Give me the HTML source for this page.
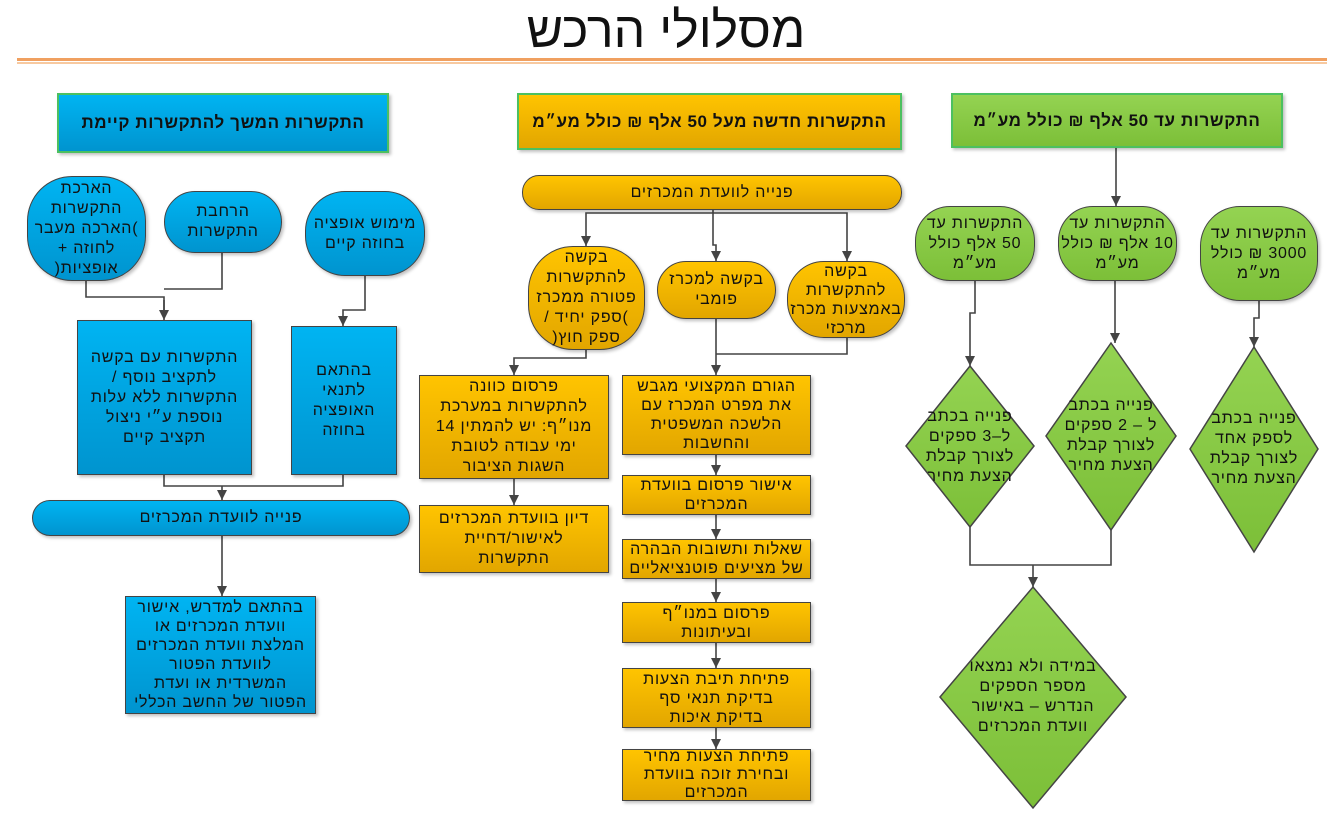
<!DOCTYPE html>
<html><head><meta charset="utf-8"><style>
body{margin:0;width:1332px;height:823px;background:#fff;position:relative;overflow:hidden;font-family:"Liberation Sans","DejaVu Sans",sans-serif;}
.b{position:absolute;box-sizing:border-box;display:flex;align-items:center;justify-content:center;text-align:center;direction:rtl;font-size:16px;letter-spacing:0.8px;line-height:20px;color:#111;border:1.5px solid #444;box-shadow:2px 2px 3px rgba(0,0,0,.25);padding:0;white-space:nowrap;}
.bl{background:linear-gradient(#00b4f2,#0094cf);}
.ye{background:linear-gradient(#ffc400,#e2a600);}
.gr{background:linear-gradient(#94d352,#7cbf38);}
.h{font-weight:bold;font-size:17px;letter-spacing:0.6px;border:2px solid #4cc060;}
.t{position:absolute;text-align:center;direction:rtl;font-size:16px;letter-spacing:0.8px;line-height:20px;color:#111;white-space:nowrap;}
svg{position:absolute;left:0;top:0;}
</style></head><body>
<div style="position:absolute;left:0;width:1332px;top:2px;text-align:center;font-size:50px;line-height:56px;direction:rtl;color:#111">מסלולי  הרכש</div>
<div style="position:absolute;left:17px;top:58px;width:1310px;height:3px;background:#f0a060"></div>
<div style="position:absolute;left:17px;top:62px;width:1310px;height:2px;background:#f7c9a0"></div>

<svg width="1332" height="823">
<defs>
<marker id="a" markerWidth="12" markerHeight="12" refX="10" refY="5" orient="auto" markerUnits="userSpaceOnUse"><path d="M0,0 L10,5 L0,10z" fill="#444"/></marker>
<linearGradient id="gg" x1="0" y1="0" x2="0" y2="1"><stop offset="0" stop-color="#94d352"/><stop offset="1" stop-color="#7cbf38"/></linearGradient>
</defs>
<g fill="none" stroke="#444" stroke-width="1.6">
<path d="M86,280 V297 H164 V311"/><path d="M222,252 V289 H164"/>
<path d="M164,300 V320" marker-end="url(#a)"/>
<path d="M365,275 V310 H343 V326" marker-end="url(#a)"/>
<path d="M164,474 V486 H343 V474"/><path d="M222,486 V500" marker-end="url(#a)"/>
<path d="M222,535 V596" marker-end="url(#a)"/>
<path d="M713,209 V213 H586 V246" marker-end="url(#a)"/>
<path d="M713,213 H847 V261" marker-end="url(#a)"/>
<path d="M713,213 V245 H716 V261" marker-end="url(#a)"/>
<path d="M586,349 V358 H514 V375" marker-end="url(#a)"/>
<path d="M716,318 V375" marker-end="url(#a)"/>
<path d="M847,337 V354 H716"/>
<path d="M514,478 V505" marker-end="url(#a)"/>
<path d="M716,454 V475" marker-end="url(#a)"/>
<path d="M716,514 V539" marker-end="url(#a)"/>
<path d="M716,578 V602" marker-end="url(#a)"/>
<path d="M716,642 V668" marker-end="url(#a)"/>
<path d="M716,727 V749" marker-end="url(#a)"/>
<path d="M1116,147 V206" marker-end="url(#a)"/>
<path d="M975,280 V313 H970 V366" marker-end="url(#a)"/>
<path d="M1115,280 V343" marker-end="url(#a)"/>
<path d="M1259,300 V318 H1254 V347" marker-end="url(#a)"/>
<path d="M970,527 V565 H1111 V530"/><path d="M1033,565 V587" marker-end="url(#a)"/>
</g>
<g stroke="#444" stroke-width="1.5" fill="url(#gg)">
<polygon points="970,366 1034,446 970,527 906,446"/>
<polygon points="1111,343 1176,436 1111,530 1046,436"/>
<polygon points="1254,347 1318,449 1254,552 1190,449"/>
<polygon points="1033,587 1126,697 1033,808 940,697"/>
</g>
</svg>

<div class="b bl h" style="left:57px;top:93px;width:332px;height:60px">התקשרות המשך להתקשרות קיימת</div>
<div class="b ye h" style="left:517px;top:93px;width:385px;height:57px">התקשרות חדשה מעל  50 אלף ₪ כולל מע״מ</div>
<div class="b gr h" style="left:951px;top:93px;width:332px;height:55px">התקשרות עד 50 אלף ₪ כולל מע״מ</div>

<div class="b bl" style="left:27px;top:176px;width:119px;height:105px;border-radius:45px">הארכת<br>התקשרות<br>)הארכה מעבר<br>לחוזה +<br>אופציות(</div>
<div class="b bl" style="left:164px;top:191px;width:118px;height:62px;border-radius:31px">הרחבת<br>התקשרות</div>
<div class="b bl" style="left:305px;top:191px;width:120px;height:85px;border-radius:40px">מימוש אופציה<br>בחוזה קיים</div>
<div class="b bl" style="left:77px;top:320px;width:175px;height:155px">התקשרות עם בקשה<br>לתקציב נוסף /<br>התקשרות ללא עלות<br>נוספת ע״י ניצול<br>תקציב קיים</div>
<div class="b bl" style="left:291px;top:326px;width:106px;height:149px">בהתאם<br>לתנאי<br>האופציה<br>בחוזה</div>
<div class="b bl" style="left:32px;top:500px;width:378px;height:36px;border-radius:18px">פנייה לוועדת המכרזים</div>
<div class="b bl" style="left:125px;top:596px;width:191px;height:118px;line-height:19px">בהתאם למדרש, אישור<br>וועדת המכרזים או<br>המלצת וועדת המכרזים<br>לוועדת הפטור<br>המשרדית או ועדת<br>הפטור של החשב הכללי</div>

<div class="b ye" style="left:522px;top:175px;width:380px;height:35px;border-radius:17px">פנייה לוועדת המכרזים</div>
<div class="b ye" style="left:528px;top:246px;width:117px;height:104px;border-radius:45px">בקשה<br>להתקשרות<br>פטורה ממכרז<br>)ספק יחיד /<br>ספק חוץ(</div>
<div class="b ye" style="left:657px;top:261px;width:119px;height:58px;border-radius:29px">בקשה למכרז<br>פומבי</div>
<div class="b ye" style="left:787px;top:261px;width:118px;height:77px;border-radius:37px;line-height:19px">בקשה<br>להתקשרות<br>באמצעות מכרז<br>מרכזי</div>
<div class="b ye" style="left:419px;top:375px;width:190px;height:104px">פרסום כוונה<br>להתקשרות במערכת<br>מנו״ף: יש להמתין 14<br>ימי עבודה לטובת<br>השגות הציבור</div>
<div class="b ye" style="left:419px;top:505px;width:190px;height:68px">דיון בוועדת המכרזים<br>לאישור/דחיית<br>התקשרות</div>
<div class="b ye" style="left:622px;top:375px;width:189px;height:80px;line-height:19px">הגורם המקצועי מגבש<br>את מפרט המכרז עם<br>הלשכה המשפטית<br>והחשבות</div>
<div class="b ye" style="left:622px;top:475px;width:189px;height:40px;line-height:19px">אישור פרסום בוועדת<br>המכרזים</div>
<div class="b ye" style="left:622px;top:539px;width:189px;height:40px;line-height:19px">שאלות ותשובות הבהרה<br>של מציעים פוטנציאליים</div>
<div class="b ye" style="left:622px;top:602px;width:189px;height:41px;line-height:19px">פרסום במנו״ף<br>ובעיתונות</div>
<div class="b ye" style="left:622px;top:668px;width:189px;height:60px;line-height:19px">פתיחת תיבת הצעות<br>בדיקת תנאי סף<br>בדיקת איכות</div>
<div class="b ye" style="left:622px;top:749px;width:189px;height:52px;line-height:18px">פתיחת הצעות מחיר<br>ובחירת זוכה בוועדת<br>המכרזים</div>

<div class="b gr" style="left:915px;top:206px;width:120px;height:75px;border-radius:35px">התקשרות עד<br>50 אלף כולל<br>מע״מ</div>
<div class="b gr" style="left:1058px;top:206px;width:119px;height:75px;border-radius:35px">התקשרות עד<br>10 אלף ₪ כולל<br>מע״מ</div>
<div class="b gr" style="left:1200px;top:206px;width:118px;height:95px;border-radius:40px">התקשרות עד<br>3000 ₪ כולל<br>מע״מ</div>
<div class="t" style="left:905px;top:407px;width:130px">פנייה בכתב<br>ל–3 ספקים<br>לצורך קבלת<br>הצעת מחיר</div>
<div class="t" style="left:1046px;top:396px;width:130px">פנייה בכתב<br>ל – 2 ספקים<br>לצורך קבלת<br>הצעת מחיר</div>
<div class="t" style="left:1189px;top:409px;width:130px">פנייה בכתב<br>לספק אחד<br>לצורך קבלת<br>הצעת מחיר</div>
<div class="t" style="left:953px;top:657px;width:160px">במידה ולא נמצאו<br>מספר הספקים<br>הנדרש – באישור<br>וועדת המכרזים</div>
</body></html>
